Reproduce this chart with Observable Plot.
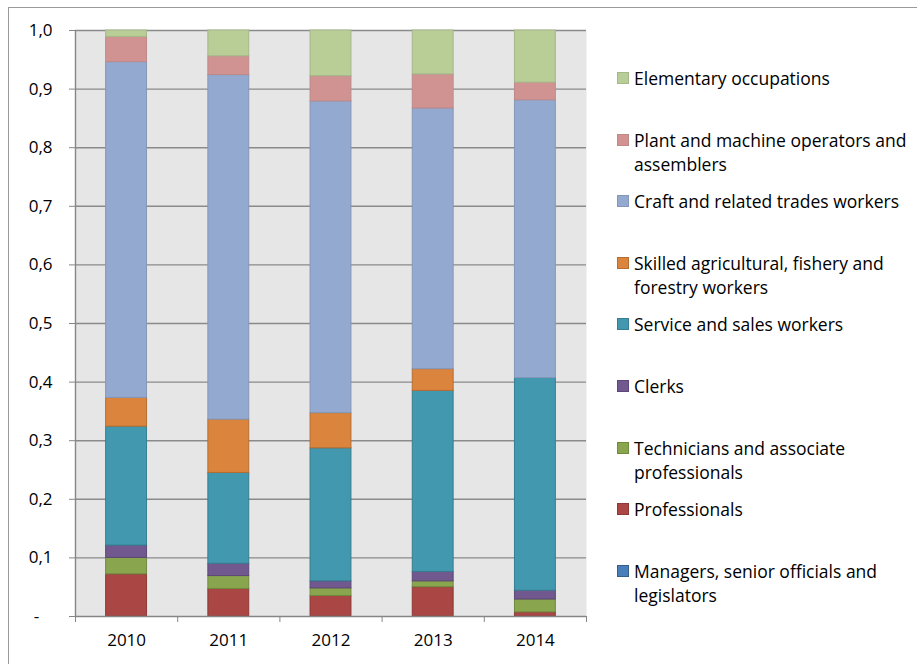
<!DOCTYPE html>
<html>
<head>
<meta charset="utf-8">
<script src="https://cdn.jsdelivr.net/npm/d3@7"></script>
<script src="https://cdn.jsdelivr.net/npm/@observablehq/plot@0.6"></script>
<style>
  body { margin: 0; background: #fff; font-family: "Open Sans", sans-serif; }
  #wrap { position: relative; width: 917px; height: 664px; overflow: hidden; }
  #border { position: absolute; left: 8px; top: 7px; width: 1000px; height: 800px;
            border-left: 1.5px solid #9a9a9a; border-top: 1.5px solid #9a9a9a; }
  #chart { position: absolute; left: 0; top: 0; }
  #legend { position: absolute; left: 617px; top: 66px; }
  .item { height: 61.6px; display: flex; align-items: flex-start; }
  .sw { width: 10px; height: 10px; margin-top: 6px; margin-right: 5px; border: 1px solid; flex: none; }
  .lab { font-size: 17.5px; line-height: 24px; color: #000; white-space: pre; }
</style>
</head>
<body>
<div id="wrap">
  <div id="border"></div>
  <div id="chart"></div>
  <div id="legend"></div>
</div>
<script>
// ---- data (shares of total) ----
const years = [2010, 2011, 2012, 2013, 2014];

// categories from bottom of stack to top
const categories = [
  "Managers, senior officials and legislators",
  "Professionals",
  "Technicians and associate professionals",
  "Clerks",
  "Service and sales workers",
  "Skilled agricultural, fishery and forestry workers",
  "Craft and related trades workers",
  "Plant and machine operators and assemblers",
  "Elementary occupations"
];

const managers      = [0.000, 0.000, 0.000, 0.000, 0.000];
const professionals = [0.072, 0.047, 0.035, 0.050, 0.007];
const technicians   = [0.028, 0.022, 0.013, 0.010, 0.022];
const clerks        = [0.021, 0.021, 0.012, 0.016, 0.015];
const service       = [0.203, 0.155, 0.227, 0.309, 0.363];
const skilledAgri   = [0.049, 0.091, 0.060, 0.037, 0.000];
const craft         = [0.573, 0.588, 0.532, 0.445, 0.474];
const plantOps      = [0.043, 0.032, 0.043, 0.058, 0.030];
const elementary    = [0.011, 0.044, 0.078, 0.075, 0.089];

const yTicks = [0, 0.1, 0.2, 0.3, 0.4, 0.5, 0.6, 0.7, 0.8, 0.9, 1.0];

// legend labels with the original line breaks (top to bottom)
const legendLabels = [
  "Elementary occupations",
  "Plant and machine operators and\nassemblers",
  "Craft and related trades workers",
  "Skilled agricultural, fishery and\nforestry workers",
  "Service and sales workers",
  "Clerks",
  "Technicians and associate\nprofessionals",
  "Professionals",
  "Managers, senior officials and\nlegislators"
];

// ---- styles ----
const fills   = ["#4A7EBB", "#AA4643", "#89A54E", "#71588F", "#4198AF", "#DB843D", "#93A9CF", "#D19392", "#B9CD96"];
const strokes = ["#385D8A", "#8C3836", "#71893F", "#5C4776", "#357D91", "#B66D31", "#8497B8", "#BE8A89", "#A5B88A"];

const series = [managers, professionals, technicians, clerks, service, skilledAgri, craft, plantOps, elementary];

// stacked rows
const rows = [];
years.forEach((yr, i) => {
  let acc = 0;
  series.forEach((s, k) => {
    const v = s[i];
    rows.push({year: yr, cat: categories[k], k, y1: acc, y2: acc + v, v});
    acc += v;
  });
});
const visible = rows.filter(d => d.v > 0);

const boundaries = [years[0] - 0.5, ...years.map(y => y + 0.5)];
const axisGray = "#868686";

const chart = Plot.plot({
  width: 917,
  height: 664,
  marginLeft: 75,
  marginRight: 331,
  marginTop: 30,
  marginBottom: 48,
  style: {fontFamily: "'Open Sans', sans-serif", fontSize: "17px", background: "transparent", overflow: "visible"},
  x: {type: "linear", domain: [years[0] - 0.5, years[years.length - 1] + 0.5], axis: null},
  y: {domain: [0, 1], axis: null},
  color: {domain: categories, range: fills},
  marks: [
    Plot.frame({fill: "#E6E6E6", stroke: null}),
    Plot.ruleY(yTicks.filter(d => d > 0), {stroke: "#8a8a8a", strokeWidth: 1.4}),
    Plot.rect(visible, {
      x1: d => d.year - 0.2, x2: d => d.year + 0.2,
      y1: "y1", y2: "y2",
      fill: "cat",
      stroke: d => strokes[d.k],
      strokeWidth: 1
    }),
    Plot.ruleX([years[0] - 0.5], {stroke: axisGray, strokeWidth: 1.4}),
    Plot.ruleY([0], {stroke: axisGray, strokeWidth: 1.4}),
    Plot.axisY({
      ticks: yTicks, tickSize: 6, tickPadding: 17,
      tickFormat: d => d === 0 ? "-\u00a0\u00a0\u00a0" : d.toFixed(1).replace(".", ","),
      stroke: axisGray, fill: "#000", fontSize: 17, label: null
    }),
    Plot.axisX({
      ticks: boundaries, tickSize: 6, tickFormat: () => "",
      stroke: axisGray, label: null
    }),
    Plot.axisX({
      ticks: years, tickSize: 0, tickPadding: 17,
      tickFormat: d => String(d), fill: "#000", fontSize: 17, label: null
    })
  ]
});
document.getElementById("chart").appendChild(chart);

// legend (top to bottom = reversed stack order)
const legend = document.getElementById("legend");
legendLabels.forEach((lab, j) => {
  const k = categories.length - 1 - j;
  const item = document.createElement("div");
  item.className = "item";
  const sw = document.createElement("div");
  sw.className = "sw";
  sw.style.background = fills[k];
  sw.style.borderColor = strokes[k];
  const t = document.createElement("div");
  t.className = "lab";
  t.textContent = lab;
  item.appendChild(sw);
  item.appendChild(t);
  legend.appendChild(item);
});
</script>
</body>
</html>
